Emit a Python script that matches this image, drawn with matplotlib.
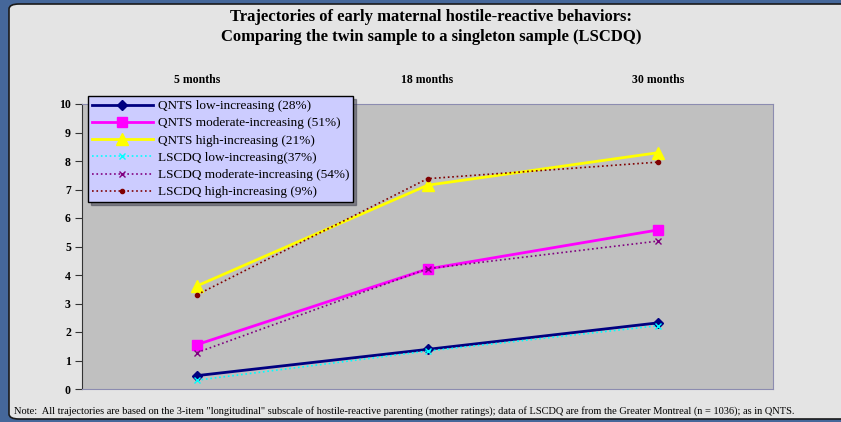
import matplotlib.pyplot as plt
import numpy as np
from matplotlib.patches import FancyBboxPatch

plt.rcParams['font.family'] = ['Liberation Serif', 'DejaVu Serif']

# data
ages = ['5 months', '18 months', '30 months']
qnts_low = [0.47, 1.39, 2.32]
qnts_mod = [1.56, 4.21, 5.58]
qnts_high = [3.62, 7.15, 8.29]
lscdq_low = [0.31, 1.33, 2.22]
lscdq_mod = [1.28, 4.22, 5.19]
lscdq_high = [3.31, 7.38, 7.96]

W, H = 841, 422
fig = plt.figure(figsize=(W / 100, H / 100), dpi=100)
fig.patch.set_facecolor('#45679a')

# rounded light panel behind everything
panel = FancyBboxPatch((9 / W, 3 / H), 850 / W, 415 / H,
                       boxstyle='round,pad=0,rounding_size=0.012',
                       transform=fig.transFigure, facecolor='#e4e4e4',
                       edgecolor='#1a1a1a', lw=1.2, zorder=-5)
fig.patches.append(panel)

fig.text(431 / W, 1 - 17 / H, 'Trajectories of early maternal hostile-reactive behaviors:',
         ha='center', va='center', fontsize=12.0, fontweight='bold')
fig.text(431 / W, 1 - 37 / H, 'Comparing the twin sample to a singleton sample (LSCDQ)',
         ha='center', va='center', fontsize=12.0, fontweight='bold')

ax = fig.add_axes([82 / W, 1 - 389 / H, 691 / W, 285 / H])
ax.set_facecolor('#c0c0c0')
x = np.arange(len(ages))

ax.plot(x, qnts_low, '-', color='#000080', lw=2, marker='D', ms=5,
        label='QNTS low-increasing (28%)')
ax.plot(x, qnts_mod, '-', color='#ff00ff', lw=2, marker='s', ms=7,
        label='QNTS moderate-increasing (51%)')
ax.plot(x, qnts_high, '-', color='#ffff00', lw=2, marker='^', ms=8,
        label='QNTS high-increasing (21%)')
ax.plot(x, lscdq_low, ':', color='#00ffff', lw=1.2, marker='x', ms=4,
        label='LSCDQ low-increasing(37%)')
ax.plot(x, lscdq_mod, ':', color='#800080', lw=1.2, marker='x', ms=4,
        label='LSCDQ moderate-increasing (54%)')
ax.plot(x, lscdq_high, ':', color='#800000', lw=1.2, marker='o', ms=3,
        label='LSCDQ high-increasing (9%)')

ax.set_xlim(-0.5, 2.5)
ax.set_ylim(0, 10)
ax.set_yticks(range(0, 11))
ax.set_yticklabels([str(v) for v in range(0, 11)], fontweight='bold', fontsize=8.5)
ax.tick_params(axis='y', length=5, width=0.8, color='#333333', pad=3)
ax.xaxis.tick_top()
ax.set_xticks(x)
ax.set_xticklabels(ages, fontweight='bold', fontsize=8.5)
ax.tick_params(axis='x', length=0, pad=13)
for s in ['top', 'right', 'bottom']:
    ax.spines[s].set_color('#8c8cb0')
ax.spines['left'].set_color('#333333')

leg = ax.legend(loc='upper left', bbox_to_anchor=(6 / 691, 1 + 8 / 285),
                fontsize=9.5, frameon=True, fancybox=False, shadow=True,
                handlelength=4.6, handletextpad=0.4, labelspacing=0.38,
                borderpad=0.3, borderaxespad=0)
leg.get_frame().set_facecolor('#ccccff')
leg.get_frame().set_edgecolor('#000000')
leg.get_frame().set_alpha(1)

fig.text(14 / W, 1 - 411 / H,
         'Note:  All trajectories are based on the 3-item "longitudinal" subscale of hostile-reactive '
         'parenting (mother ratings); data of LSCDQ are from the Greater Montreal (n = 1036); as in QNTS.',
         ha='left', va='center', fontsize=7.45)

fig.savefig('out.png', dpi=100, facecolor=fig.get_facecolor())
